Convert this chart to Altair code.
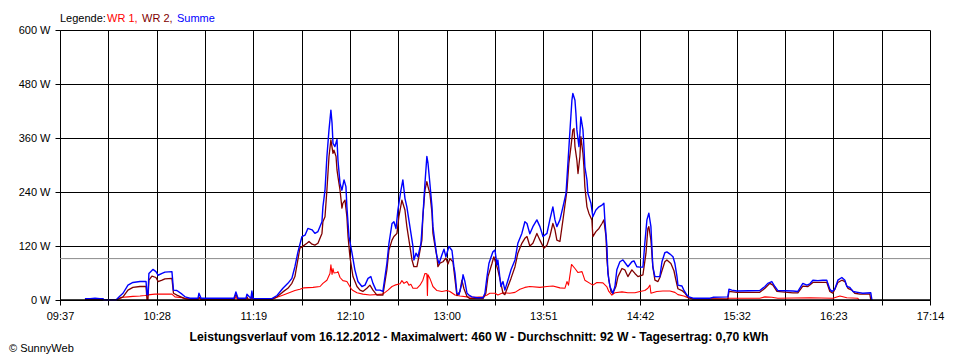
import altair as alt
import pandas as pd

# ---------------- data (minutes after midnight, watts) ----------------
t_wr1 = [
    590.1, 599.6, 600.1, 606.4, 608.5, 610.1, 612.7, 615.3, 619.0, 621.6,
    624.3, 626.9, 635.8, 637.4, 641.1, 642.7, 645.3, 649.5, 650.0, 651.1,
    668.4, 669.4, 670.5, 674.7, 675.2, 675.7, 677.3, 677.8, 678.4, 688.3,
    691.0, 693.6, 696.7, 700.4, 703.0, 705.1, 709.9, 713.6, 715.1, 717.2,
    718.8, 719.3, 719.9, 720.4, 720.9, 722.5, 723.0, 724.1, 725.6, 727.7,
    729.8, 730.9, 733.0, 736.1, 739.8, 746.6, 749.3, 751.4, 752.9, 755.6,
    756.6, 757.7, 759.2, 760.3, 761.3, 762.4, 764.5, 766.1, 767.6, 768.7,
    769.7, 770.0, 770.3, 771.3, 772.9, 775.0, 777.6, 780.3, 781.8, 784.5,
    787.1, 790.8, 795.0, 799.2, 801.3, 802.8, 805.5, 807.0, 809.7, 813.3,
    816.0, 818.6, 821.2, 823.8, 829.1, 832.8, 835.9, 839.6, 842.2, 843.3,
    844.1, 845.7, 847.5, 849.1, 851.2, 852.7, 855.4, 856.9, 859.0, 862.2,
    864.3, 865.3, 866.9, 868.5, 872.2, 875.3, 879.0, 881.6, 884.2, 885.8,
    886.9, 887.4, 890.5, 893.7, 897.4, 900.0, 901.6, 904.7, 906.8, 909.5,
    927.8, 928.4, 944.6, 947.3, 950.9, 954.1, 970.9, 983.0, 986.7, 990.3, 996.1, 996.6,
]
wr1 = [
    1, 1, 0, 0, 4, 6, 7, 8, 9, 10,
    12, 13, 13, 7, 5, 3, 1, 1, 4, 1,
    1, 6, 1, 1, 4, 1, 1, 5, 1, 1,
    6, 10, 15, 21, 24, 27, 28, 30, 37, 44,
    59, 78, 57, 70, 60, 61, 63, 50, 43, 41,
    26, 21, 16, 13, 11, 13, 22, 30, 33, 36,
    43, 37, 41, 33, 35, 26, 26, 33, 44, 59,
    58, 10, 56, 48, 30, 21, 19, 21, 19, 11,
    9, 7, 6, 7, 11, 15, 15, 11, 16, 15,
    17, 24, 28, 30, 28, 30, 31, 27, 26, 41,
    33, 79, 70, 61, 63, 44, 37, 33, 39, 38,
    29, 19, 11, 16, 18, 16, 16, 19, 21, 26,
    33, 15, 19, 20, 20, 17, 12, 9, 5, 3,
    2, 4, 4, 7, 6, 4, 5, 4, 9, 5, 4, 0,
]

t_wr2 = [
    590.1, 599.6, 600.1, 606.4, 608.5, 610.1, 612.7, 615.3, 619.0, 622.2,
    622.7, 623.2, 623.7, 625.3, 627.4, 628.5, 630.6, 632.1, 635.8, 636.6,
    638.4, 641.1, 642.7, 645.3, 649.5, 650.0, 651.1, 668.4, 669.4, 670.5,
    674.7, 675.2, 675.7, 677.3, 677.8, 678.4, 688.3, 691.0, 694.1, 696.7,
    698.8, 700.4, 703.0, 704.1, 706.7, 707.8, 709.4, 710.9, 712.5, 714.6,
    715.1, 716.2, 717.2, 718.3, 719.3, 720.4, 720.9, 722.0, 722.5, 723.0,
    724.1, 725.1, 725.6, 726.7, 727.7, 728.3, 729.3, 730.9, 733.0, 734.6,
    736.1, 738.2, 739.8, 741.4, 743.5, 746.6, 748.7, 749.8, 751.4, 752.4,
    754.0, 755.0, 756.6, 757.1, 758.2, 759.2, 760.3, 761.9, 762.9, 764.5,
    765.5, 767.1, 767.6, 768.7, 769.7, 770.3, 771.3, 772.4, 772.9, 774.0,
    775.0, 775.5, 776.6, 778.2, 779.7, 780.8, 781.8, 783.4, 784.5, 785.5,
    787.1, 788.1, 789.2, 790.8, 792.3, 799.2, 800.7, 801.8, 803.9, 804.9,
    806.0, 807.0, 808.6, 809.7, 810.7, 812.3, 813.9, 816.0, 817.5, 819.6,
    821.2, 822.3, 823.8, 825.4, 827.5, 829.1, 831.2, 832.8, 834.3, 835.9,
    837.0, 838.0, 839.6, 841.2, 843.3, 844.3, 845.4, 846.4, 847.0, 847.5,
    848.5, 849.1, 850.1, 850.6, 851.7, 852.2, 852.7, 853.8, 854.8, 856.4,
    856.9, 858.5, 860.1, 861.7, 862.7, 863.8, 864.3, 865.3, 866.4, 867.4,
    869.0, 870.1, 872.2, 873.7, 875.3, 877.4, 879.0, 880.6, 883.2, 884.8,
    885.8, 886.3, 887.4, 888.4, 889.5, 891.1, 892.1, 893.2, 894.7, 895.8,
    897.9, 899.5, 900.5, 901.6, 903.7, 905.3, 906.8, 909.5, 927.8, 928.4,
    932.6, 944.6, 947.3, 949.9, 951.5, 953.6, 962.0, 964.6, 967.2, 969.9,
    972.5, 979.8, 981.4, 983.0, 985.6, 987.7, 989.3, 990.9, 993.0, 994.5,
    997.2, 1002.4, 1002.9,
]
wr2 = [
    2, 2, 0, 0, 4, 7, 22, 28, 30, 30,
    0, 0, 44, 53, 50, 41, 44, 47, 48, 15,
    11, 6, 3, 2, 2, 6, 2, 2, 12, 2,
    2, 7, 2, 2, 10, 2, 2, 7, 18, 26,
    37, 52, 115, 118, 126, 130, 124, 122, 126, 148,
    174, 185, 244, 319, 356, 326, 333, 319, 289, 274,
    244, 204, 215, 222, 185, 141, 96, 52, 30, 22,
    19, 26, 33, 22, 11, 11, 67, 111, 133, 141,
    148, 185, 222, 215, 200, 163, 133, 89, 74, 74,
    96, 133, 185, 244, 263, 252, 237, 193, 148, 119,
    96, 74, 82, 85, 93, 80, 92, 85, 45, 10,
    19, 44, 25, 8, 3, 3, 15, 52, 81, 96,
    81, 67, 37, 15, 12, 30, 48, 74, 104, 126,
    137, 141, 120, 126, 148, 133, 115, 122, 141, 170,
    156, 133, 130, 178, 244, 304, 341, 378, 381, 341,
    311, 281, 319, 363, 326, 296, 252, 207, 193, 178,
    141, 152, 159, 170, 178, 141, 89, 44, 19, 15,
    30, 52, 70, 67, 52, 67, 59, 52, 56, 104,
    159, 163, 133, 74, 44, 41, 50, 65, 85, 89,
    81, 65, 45, 25, 21, 15, 6, 2, 2, 19,
    17, 17, 26, 37, 33, 19, 16, 16, 31, 30,
    39, 39, 19, 15, 39, 44, 41, 26, 22, 15,
    13, 13, 0,
]

t_sum = [
    590.1, 592.8, 595.4, 598.0, 599.6, 600.1, 606.4, 608.5, 610.1, 612.7,
    615.3, 619.0, 622.2, 622.7, 623.2, 623.7, 625.8, 627.4, 628.5, 630.6,
    632.1, 635.8, 636.6, 638.4, 641.1, 642.7, 645.3, 649.5, 650.0, 651.1,
    668.4, 669.4, 670.5, 674.7, 675.2, 676.3, 677.3, 677.8, 678.4, 688.3,
    691.0, 694.1, 696.7, 698.8, 700.4, 702.0, 704.1, 705.7, 707.2, 709.4,
    710.9, 712.5, 714.6, 715.1, 716.2, 717.2, 718.3, 719.3, 719.9, 720.4,
    721.4, 722.5, 723.0, 724.1, 725.1, 726.2, 727.2, 727.7, 728.8, 730.4,
    731.9, 733.5, 735.6, 737.2, 738.8, 740.3, 741.4, 743.0, 745.1, 746.6,
    748.7, 749.8, 751.4, 752.4, 753.5, 754.5, 756.1, 757.1, 758.2, 759.2,
    760.8, 762.4, 762.9, 764.0, 765.0, 766.6, 767.6, 768.7, 769.7, 770.3,
    771.3, 772.4, 772.9, 774.0, 775.0, 776.1, 777.6, 778.7, 779.7, 781.3,
    782.9, 783.9, 784.5, 785.5, 786.6, 788.1, 788.7, 789.7, 790.8, 791.8,
    793.4, 796.0, 799.2, 800.2, 801.3, 802.3, 803.4, 804.4, 805.5, 806.5,
    807.0, 808.6, 809.1, 809.7, 810.7, 812.3, 813.9, 816.0, 817.5, 819.6,
    821.2, 822.3, 823.8, 825.4, 827.5, 829.1, 830.7, 832.8, 834.3, 835.9,
    837.0, 838.0, 839.6, 841.2, 842.8, 843.8, 844.9, 845.9, 846.4, 847.5,
    848.0, 848.5, 849.6, 850.1, 850.6, 851.7, 852.2, 852.7, 853.8, 854.3,
    855.9, 856.9, 858.5, 860.1, 861.7, 862.7, 863.2, 864.3, 864.8, 865.9,
    867.4, 868.5, 869.5, 871.1, 872.7, 874.3, 875.3, 877.4, 878.5, 880.0,
    881.6, 883.2, 884.2, 885.3, 886.3, 887.4, 887.9, 888.4, 889.5, 892.1,
    893.2, 894.7, 895.8, 897.4, 899.0, 900.0, 901.1, 901.6, 903.7, 904.7,
    906.3, 907.4, 909.5, 918.4, 920.0, 927.8, 928.4, 929.9, 932.6, 944.6,
    947.3, 948.8, 950.9, 952.5, 954.1, 962.0, 964.6, 967.2, 969.3, 970.9,
    972.5, 975.1, 977.7, 979.8, 980.3, 981.4, 982.5, 984.0, 985.6, 987.7,
    989.3, 990.3, 991.9, 993.5, 996.1, 998.7, 1002.9, 1003.5,
]
summe = [
    3, 3, 4, 3, 3, 0, 0, 9, 15, 33,
    39, 41, 41, 12, 12, 59, 68, 63, 55, 59,
    62, 63, 22, 21, 13, 7, 4, 4, 15, 4,
    4, 18, 4, 4, 13, 8, 4, 20, 3, 3,
    10, 26, 37, 48, 74, 107, 141, 144, 159, 156,
    148, 152, 174, 207, 244, 319, 378, 422, 393, 348,
    341, 357, 311, 259, 244, 267, 252, 207, 141, 104,
    67, 41, 30, 33, 48, 52, 37, 22, 22, 19,
    81, 126, 170, 174, 159, 200, 244, 267, 226, 207,
    163, 119, 89, 104, 96, 126, 185, 259, 319, 304,
    259, 207, 163, 126, 96, 81, 100, 113, 96, 119,
    110, 74, 59, 15, 12, 37, 56, 41, 15, 11,
    7, 5, 5, 15, 52, 81, 95, 107, 111, 78,
    89, 30, 35, 41, 22, 44, 67, 89, 126, 148,
    174, 170, 147, 163, 178, 163, 141, 148, 178, 207,
    178, 163, 178, 207, 237, 304, 378, 444, 459, 444,
    415, 378, 341, 370, 407, 378, 341, 296, 267, 237,
    215, 185, 200, 207, 211, 215, 178, 119, 59, 30,
    15, 30, 67, 85, 89, 80, 74, 85, 87, 74,
    73, 73, 126, 178, 193, 163, 119, 74, 52, 52,
    85, 105, 107, 102, 96, 81, 52, 33, 31, 22,
    11, 7, 4, 4, 6, 7, 24, 22, 20, 21,
    30, 37, 41, 30, 21, 20, 19, 37, 33, 36,
    44, 43, 44, 44, 37, 24, 19, 24, 44, 50,
    44, 30, 28, 19, 17, 15, 16, 0,
]

average_w = 92
series_names = ["WR 1", "WR 2", "Summe"]
series_colors = ["#ff0000", "#800000", "#0000ff"]
x_labels = ["09:37", "10:28", "11:19", "12:10", "13:00", "13:51",
            "14:42", "15:32", "16:23", "17:14"]
y_ticks = [0, 120, 240, 360, 480, 600]
legend_parts = ["Legende:", "WR 1,", "WR 2,", "Summe"]
legend_colors = ["#000000", "#ff0000", "#800000", "#0000ff"]
title_text = ("Leistungsverlauf vom 16.12.2012 - Maximalwert: 460 W - "
              "Durchschnitt: 92 W - Tagesertrag: 0,70 kWh")
credit_text = "\u00a9 SunnyWeb"

# ---------------- layout ----------------
FONT = "Liberation Sans"
W, H = 870, 270
x_start, x_end = 577, 1034  # 09:37 .. 17:14 in minutes
n_steps = 18
step = (x_end - x_start) / n_steps
x_ticks = [x_start + i * step for i in range(n_steps + 1)]
labels_js = "[" + ",".join("'" + s + "'" for s in x_labels) + "]"
idx = f"round((datum.value - {x_start}) / {step})"
x_label_expr = f"{idx} % 2 == 0 ? {labels_js}[{idx} / 2] : ''"

x_enc = alt.X(
    "t:Q",
    scale=alt.Scale(domain=[x_start, x_end], nice=False, zero=False),
    axis=alt.Axis(
        values=x_ticks, labelExpr=x_label_expr, title=None,
        grid=True, gridColor="#000000", gridOpacity=1, gridWidth=1,
        domainColor="#000000", domainWidth=1, tickColor="#000000", tickSize=5,
        labelFont=FONT, labelFontSize=11, labelColor="#000000",
        labelPadding=5, labelFlush=False, labelOverlap=False,
    ),
)
y_enc = alt.Y(
    "w:Q",
    scale=alt.Scale(domain=[0, 600], nice=False),
    axis=alt.Axis(
        values=y_ticks, labelExpr="datum.value + ' W'", title=None,
        grid=True, gridColor="#000000", gridOpacity=1, gridWidth=1,
        domainColor="#000000", domainWidth=1, tickColor="#000000", tickSize=5,
        labelFont=FONT, labelFontSize=11, labelColor="#000000",
        labelPadding=5, labelFlush=False, labelOverlap=False,
    ),
)

def series_df(t, v):
    return pd.DataFrame({"t": t, "w": v})

avg_rule = alt.Chart(pd.DataFrame({"w": [average_w]})).mark_rule(
    color="#8c8c8c", strokeWidth=1
).encode(y="w:Q")

line_red = alt.Chart(series_df(t_wr1, wr1)).mark_line(
    color=series_colors[0], strokeWidth=1.1, strokeJoin="round"
).encode(x=x_enc, y=y_enc)
line_dark = alt.Chart(series_df(t_wr2, wr2)).mark_line(
    color=series_colors[1], strokeWidth=1.3, strokeJoin="round"
).encode(x="t:Q", y="w:Q")
line_blue = alt.Chart(series_df(t_sum, summe)).mark_line(
    color=series_colors[2], strokeWidth=1.4, strokeJoin="round"
).encode(x="t:Q", y="w:Q")

zero_rule = alt.Chart(pd.DataFrame({"w": [0]})).mark_rule(
    color="#000000", strokeWidth=1.6
).encode(y="w:Q")

legend_x = [0, 47, 82, 117]
legend_layers = []
for txt, col, lx in zip(legend_parts, legend_colors, legend_x):
    legend_layers.append(
        alt.Chart(pd.DataFrame({"txt": [txt]})).mark_text(
            align="left", baseline="alphabetic", font=FONT, fontSize=11, color=col
        ).encode(x=alt.value(lx), y=alt.value(-8), text="txt:N")
    )

title_layer = alt.Chart(pd.DataFrame({"txt": [title_text]})).mark_text(
    align="center", baseline="alphabetic", font=FONT, fontSize=12.2,
    fontWeight="bold", color="#000000"
).encode(x=alt.value(419), y=alt.value(310.5), text="txt:N")

credit_layer = alt.Chart(pd.DataFrame({"txt": [credit_text]})).mark_text(
    align="left", baseline="alphabetic", font=FONT, fontSize=11, color="#000000"
).encode(x=alt.value(-51), y=alt.value(322), text="txt:N")

chart = alt.layer(
    avg_rule, line_red, line_dark, line_blue, zero_rule,
    *legend_layers, title_layer, credit_layer
).properties(
    width=W, height=H,
    padding={"left": 52, "top": 22, "right": 16, "bottom": 54},
    autosize=alt.AutoSizeParams(type="none"),
    background="#ffffff",
).configure_view(stroke="transparent")

chart.save("out.html", embed_options={"renderer": "svg", "actions": False})
